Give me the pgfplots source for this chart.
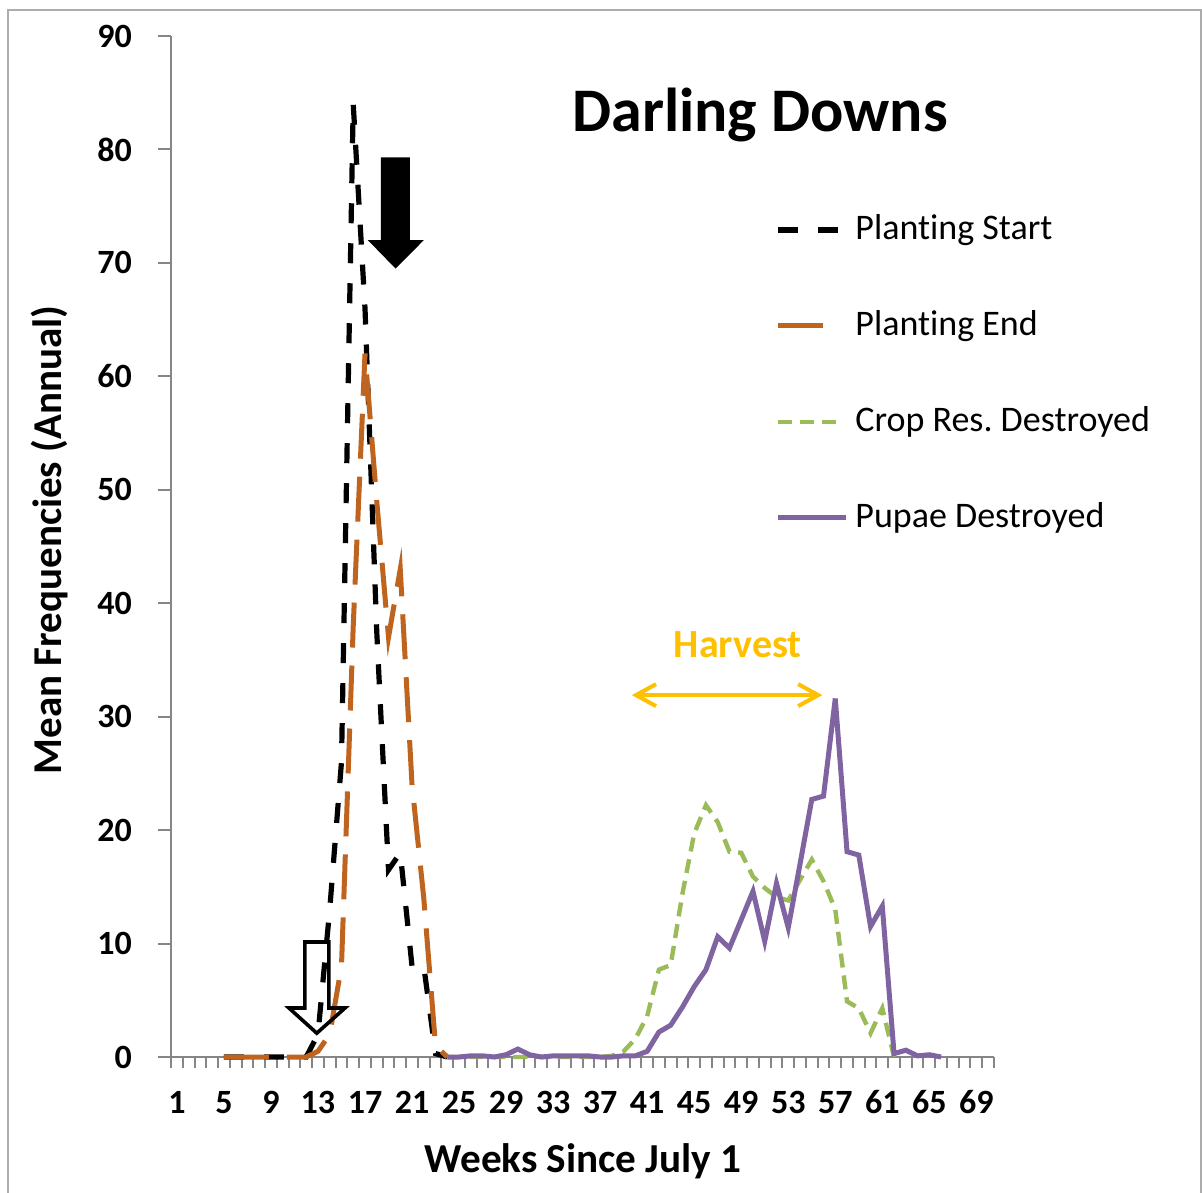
\documentclass[border=0pt]{standalone}
\usepackage{fontspec}
\setmainfont{Carlito}[Ligatures=NoCommon]
\usepackage{pgfplots}
\pgfplotsset{compat=1.18}
\usetikzlibrary{arrows.meta}

\definecolor{pend}{RGB}{190,100,30}
\definecolor{cropres}{RGB}{155,187,89}
\definecolor{pupae}{RGB}{128,100,162}
\definecolor{harv}{RGB}{255,192,0}
\definecolor{axgray}{RGB}{134,134,134}

\tikzset{
  startline/.style={black, line width=2.6pt, dash pattern=on 10pt off 10pt},
  endline/.style={pend, line width=2.5pt, dash pattern=on 22.5pt off 9pt},
  cropline/.style={cropres, line width=2.2pt, dash pattern=on 7pt off 4pt},
  pupaeline/.style={pupae, line width=2.5pt},
}

\begin{document}
\frenchspacing
\begin{tikzpicture}
\path[use as bounding box] (0,0) rectangle (601pt,596pt);
\draw[gray!65, line width=1pt] (4pt,-5pt) rectangle (600.5pt,591pt);
\begin{axis}[
  at={(85.5pt,67.5pt)}, anchor=south west,
  width=411.5pt, height=510.5pt, scale only axis,
  xmin=0.5, xmax=70.5, ymin=0, ymax=90,
  axis x line=bottom, axis y line=left,
  axis line style={axgray, line width=1pt, -},
  xtick={1,5,...,69}, minor xtick={0.5,1.5,...,70.5},
  ytick={0,10,...,90},
  tick align=outside, major tick length=6.5pt, minor tick length=5.5pt,
  major x tick style={draw=none},
  tick style={axgray, line width=1pt},
  /pgf/number format/assume math mode=true,
  ticklabel style={font=\fontsize{17}{19}\selectfont\bfseries},
  xticklabel style={anchor=base, yshift=-21.5pt},
  yticklabel style={anchor=east, xshift=-9.5pt},
  clip=false,
]
% Planting Start
\addplot[startline] coordinates {
(5,0)(6,0)(7,0)(8,0)(9,0)(10,0)(11,0)(12,0)(13,2)(14,13)(15,26)(16,84)
(17,66)(18,37.5)(19,16.5)(20,18)(21,8)(22,8)(23,0.3)(24,0)};
% Planting End
\addplot[endline] coordinates {
(5,0)(6,0)(7,0)(8,0)(9,0)(10,0)(11,0)(12,0)(13,0.5)(14,2)(15,8)(16,38)
(17,62)(18,49)(19,37)(20,43)(21,24)(22,14)(23,1)(24,0)};
% Crop Res. Destroyed
\addplot[cropline] coordinates {
(24,0)(25,0)(26,0)(27,0)(28,0)(29,0)(30,0)(31,0)(32,0)(33,0)(34,0)(35,0)
(36,0)(37,0)(38,0.1)(39,0.5)(40,1.6)(41,3.6)(42,7.7)(43,8.1)(44,14.4)
(45,19.7)(46,22.2)(47,20.7)(48,18.1)(49,18)(50,15.9)(51,14.9)(52,14.1)
(53,13.8)(54,15.6)(55,17.4)(56,15.5)(57,13)(58,4.9)(59,4.3)(60,2.1)
(61,4.3)(62,0)};
% Pupae Destroyed
\addplot[pupaeline] coordinates {
(24,0)(25,0)(26,0.1)(27,0.1)(28,0)(29,0.2)(30,0.7)(31,0.2)(32,0)(33,0.1)
(34,0.1)(35,0.1)(36,0.1)(37,0)(38,0)(39,0.1)(40,0.1)(41,0.5)(42,2.2)
(43,2.8)(44,4.4)(45,6.2)(46,7.7)(47,10.6)(48,9.6)(49,12.1)(50,14.6)
(51,10.2)(52,15.3)(53,11.4)(54,17)(55,22.7)(56,23)(57,31.6)(58,18.1)
(59,17.8)(60,11.5)(61,13.3)(62,0.3)(63,0.6)(64,0.1)(65,0.2)(66,0)};

% planting arrows
\fill[black] (18.36,79.3) -- (20.82,79.3) -- (20.82,72) -- (22.0,72)
  -- (19.6,69.5) -- (17.25,72) -- (18.36,72) -- cycle;
\draw[black, line width=1.8pt, line join=miter] (11.89,10.14) -- (13.93,10.14)
  -- (13.93,4.32) -- (15.3,4.32) -- (12.9,2.1) -- (10.53,4.32) -- (11.89,4.32) -- cycle;
% harvest
\draw[harv, line width=2pt, {Straight Barb[length=10pt,width=11pt]}-{Straight Barb[length=10pt,width=11pt]}]
  (39.7,31.9) -- (55.9,31.9);
\node[harv, font=\fontsize{20}{24}\selectfont\bfseries, anchor=base] at (48.7,35.2) {Harvest};
\end{axis}

% titles
\node[font=\fontsize{31}{37}\selectfont\bfseries, anchor=base] at (380pt,530pt) {Darling Downs};
\node[font=\fontsize{20.6}{24}\selectfont\bfseries, anchor=base] at (291.5pt,10pt) {Weeks Since July 1};
\node[font=\fontsize{20.5}{24}\selectfont\bfseries, rotate=90, anchor=center] at (25pt,326pt) {Mean Frequencies (Annual)};

% legend
\begin{scope}[font=\fontsize{18}{21}\selectfont]
\draw[startline] (389pt,481pt) -- (420pt,481pt);
\node[anchor=base west, inner sep=0pt] at (427.5pt,476pt) {Planting Start};
\draw[endline] (389pt,433pt) -- (420pt,433pt);
\node[anchor=base west, inner sep=0pt] at (427.5pt,428pt) {Planting End};
\draw[cropline] (389pt,385pt) -- (420pt,385pt);
\node[anchor=base west, inner sep=0pt] at (427.5pt,380pt) {Crop Res. Destroyed};
\draw[pupaeline] (389pt,337pt) -- (423pt,337pt);
\node[anchor=base west, inner sep=0pt] at (427.5pt,332pt) {Pupae Destroyed};
\end{scope}
\end{tikzpicture}
\end{document}
